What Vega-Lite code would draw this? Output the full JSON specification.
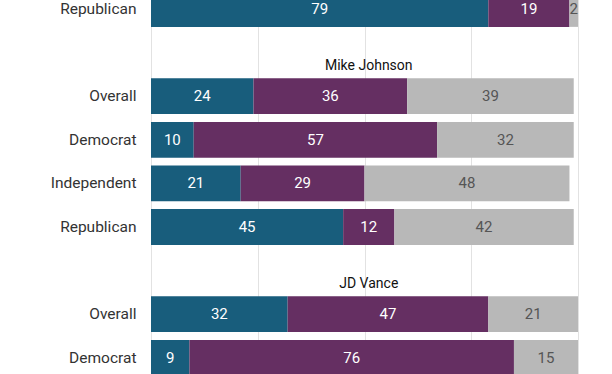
{
  "$schema": "https://vega.github.io/schema/vega-lite/v6.json",
  "autosize": {"type": "none"},
  "width": 427,
  "height": 374,
  "padding": {"left": 151, "top": 0, "right": 34, "bottom": 0},
  "background": "white",
  "config": {"view": {"stroke": null}, "font": "Roboto"},
  "datasets": {
    "bars": [
      {"row": "A|Republican", "resp": "a", "ord": 1, "value": 79},
      {"row": "A|Republican", "resp": "b", "ord": 2, "value": 19},
      {"row": "A|Republican", "resp": "c", "ord": 3, "value": 2},
      {"row": "MJ|Overall", "resp": "a", "ord": 1, "value": 24},
      {"row": "MJ|Overall", "resp": "b", "ord": 2, "value": 36},
      {"row": "MJ|Overall", "resp": "c", "ord": 3, "value": 39},
      {"row": "MJ|Democrat", "resp": "a", "ord": 1, "value": 10},
      {"row": "MJ|Democrat", "resp": "b", "ord": 2, "value": 57},
      {"row": "MJ|Democrat", "resp": "c", "ord": 3, "value": 32},
      {"row": "MJ|Independent", "resp": "a", "ord": 1, "value": 21},
      {"row": "MJ|Independent", "resp": "b", "ord": 2, "value": 29},
      {"row": "MJ|Independent", "resp": "c", "ord": 3, "value": 48},
      {"row": "MJ|Republican", "resp": "a", "ord": 1, "value": 45},
      {"row": "MJ|Republican", "resp": "b", "ord": 2, "value": 12},
      {"row": "MJ|Republican", "resp": "c", "ord": 3, "value": 42},
      {"row": "JD|Overall", "resp": "a", "ord": 1, "value": 32},
      {"row": "JD|Overall", "resp": "b", "ord": 2, "value": 47},
      {"row": "JD|Overall", "resp": "c", "ord": 3, "value": 21},
      {"row": "JD|Democrat", "resp": "a", "ord": 1, "value": 9},
      {"row": "JD|Democrat", "resp": "b", "ord": 2, "value": 76},
      {"row": "JD|Democrat", "resp": "c", "ord": 3, "value": 15}
    ],
    "headers": [
      {"row": "MJ|hdr", "title": "Mike Johnson"},
      {"row": "JD|hdr", "title": "JD Vance"}
    ]
  },
  "layer": [
    {
      "data": {"name": "bars"},
      "transform": [
        {"stack": "value", "groupby": ["row"], "sort": [{"field": "ord"}], "as": ["v0", "v1"]}
      ],
      "mark": {"type": "bar"},
      "encoding": {
        "y": {
          "field": "row", "type": "nominal",
          "scale": {
            "domain": ["A|Republican", "MJ|hdr", "MJ|Overall", "MJ|Democrat", "MJ|Independent", "MJ|Republican", "JD|hdr", "JD|Overall", "JD|Democrat"],
            "range": [-12.8, 379.6],
            "paddingInner": 0.18,
            "paddingOuter": 0.09
          },
          "axis": {
            "title": null, "ticks": false, "domain": false, "grid": false,
            "labelPadding": 15, "labelFontSize": 15.5, "labelColor": "#333", "labelFont": "Roboto",
            "labelExpr": "split(datum.value, '|')[1] == 'hdr' ? '' : split(datum.value, '|')[1]"
          }
        },
        "x": {
          "field": "v0", "type": "quantitative",
          "scale": {"domain": [0, 100], "nice": false, "zero": true},
          "axis": {
            "title": null, "labels": false, "ticks": false, "domain": false,
            "grid": true, "values": [0, 25, 50, 75, 100], "gridColor": "#e2e2e2", "gridWidth": 1
          }
        },
        "x2": {"field": "v1"},
        "color": {
          "field": "resp", "type": "nominal", "legend": null,
          "scale": {"domain": ["a", "b", "c"], "range": ["#185d7c", "#652f62", "#b8b8b8"]}
        }
      }
    },
    {
      "data": {"name": "bars"},
      "transform": [
        {"stack": "value", "groupby": ["row"], "sort": [{"field": "ord"}], "as": ["v0", "v1"]},
        {"calculate": "(datum.v0 + datum.v1) / 2", "as": "mid"}
      ],
      "mark": {"type": "text", "fontSize": 15, "font": "Roboto", "align": "center", "baseline": "middle"},
      "encoding": {
        "y": {"field": "row", "type": "nominal"},
        "x": {"field": "mid", "type": "quantitative"},
        "text": {"field": "value", "type": "quantitative"},
        "color": {"condition": {"test": "datum.resp === 'c'", "value": "#555555"}, "value": "white"}
      }
    },
    {
      "data": {"name": "headers"},
      "mark": {"type": "text", "fontSize": 14, "font": "Roboto", "align": "center", "baseline": "alphabetic", "color": "#111"},
      "encoding": {
        "y": {"field": "row", "type": "nominal", "bandPosition": 1},
        "x": {"datum": 51},
        "text": {"field": "title"}
      }
    }
  ]
}
